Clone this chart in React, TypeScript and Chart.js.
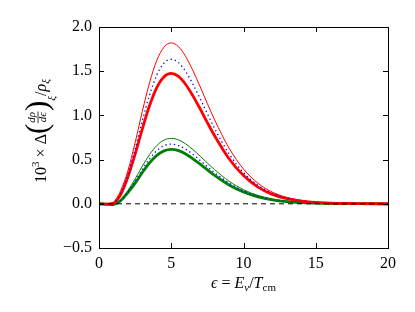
import React, { useEffect, useRef } from "react";
import { Chart, registerables } from "chart.js";

Chart.register(...registerables);

const xs = [0, 0.5, 1, 1.5, 2, 2.5, 3, 3.5, 4, 4.5, 5, 5.5, 6, 6.5, 7, 7.5, 8, 9, 10, 11, 12, 13, 14, 15, 16, 17, 18, 19, 20];
const redThin = [0, 0, 0.02, 0.15, 0.375, 0.693, 1.047, 1.37, 1.622, 1.773, 1.82, 1.778, 1.665, 1.507, 1.325, 1.134, 0.95, 0.63, 0.393, 0.233, 0.132, 0.072, 0.039, 0.02, 0.01, 0.005, 0.0025, 0.0013, 0.0005];
const blueUpper = [0, -0.002, 0.012, 0.125, 0.337, 0.623, 0.94, 1.231, 1.457, 1.592, 1.635, 1.597, 1.496, 1.354, 1.19, 1.019, 0.853, 0.566, 0.353, 0.209, 0.119, 0.065, 0.035, 0.018, 0.009, 0.0046, 0.0023, 0.0011, 0.0005];
const redThick = [0, -0.003, 0.005, 0.105, 0.304, 0.562, 0.848, 1.111, 1.314, 1.437, 1.475, 1.441, 1.35, 1.221, 1.074, 0.919, 0.77, 0.51, 0.319, 0.189, 0.107, 0.059, 0.031, 0.016, 0.008, 0.004, 0.002, 0.001, 0.0004];
const greenThin = [0, -0.003, -0.003, 0.05, 0.152, 0.282, 0.426, 0.557, 0.659, 0.721, 0.74, 0.723, 0.677, 0.613, 0.539, 0.461, 0.386, 0.256, 0.16, 0.095, 0.054, 0.029, 0.016, 0.008, 0.004, 0.002, 0.001, 0.0005, 0.0002];
const blueLower = [0, -0.004, -0.006, 0.042, 0.139, 0.257, 0.388, 0.508, 0.601, 0.657, 0.675, 0.659, 0.618, 0.559, 0.491, 0.421, 0.352, 0.234, 0.146, 0.086, 0.049, 0.027, 0.014, 0.007, 0.004, 0.002, 0.001, 0.0005, 0.0002];
const greenThick = [0, -0.005, -0.008, 0.035, 0.127, 0.234, 0.354, 0.463, 0.548, 0.599, 0.615, 0.601, 0.563, 0.509, 0.448, 0.383, 0.321, 0.213, 0.133, 0.079, 0.045, 0.024, 0.013, 0.007, 0.003, 0.002, 0.001, 0.0004, 0.0002];
const zeroLine = [0, 0];
const zeroX = [0, 20];
const xTicks = [0, 5, 10, 15, 20];
const yTicks = [-0.5, 0, 0.5, 1.0, 1.5, 2.0];

const FONT = "'Liberation Serif', 'DejaVu Serif', serif";

const pts = (x: number[], y: number[]) => x.map((v, i) => ({ x: v, y: y[i] }));

const framePlugin = {
  id: "frame",
  afterDraw(chart: any) {
    const { ctx, chartArea: a, scales } = chart;
    const xs_ = scales.x;
    const ys_ = scales.y;
    ctx.save();
    ctx.strokeStyle = "#000";
    ctx.lineWidth = 1;
    ctx.strokeRect(Math.round(a.left) + 0.5, Math.round(a.top) + 0.5, Math.round(a.right - a.left), Math.round(a.bottom - a.top));
    ctx.beginPath();
    const tl = 5;
    for (const t of xTicks) {
      const px = Math.round(xs_.getPixelForValue(t)) + 0.5;
      ctx.moveTo(px, a.bottom);
      ctx.lineTo(px, a.bottom - tl);
      ctx.moveTo(px, a.top);
      ctx.lineTo(px, a.top + tl);
    }
    for (const t of yTicks) {
      const py = Math.round(ys_.getPixelForValue(t)) + 0.5;
      ctx.moveTo(a.left, py);
      ctx.lineTo(a.left + tl, py);
      ctx.moveTo(a.right, py);
      ctx.lineTo(a.right - tl, py);
    }
    ctx.stroke();

    // x label
    ctx.fillStyle = "#000";
    ctx.textBaseline = "alphabetic";
    const big = 16;
    const small = 11;
    const xParts: [string, string, number][] = [
      ["ϵ", "italic", 0],
      [" = ", "normal", 0],
      ["E", "italic", 0],
      ["ν", "italic", 1],
      ["/", "normal", 0],
      ["T", "italic", 0],
      ["cm", "normal", 1],
    ];
    let w = 0;
    for (const [s, st, sub] of xParts) {
      ctx.font = `${st} ${sub ? small : big}px ${FONT}`;
      w += ctx.measureText(s).width;
    }
    let cx = (a.left + a.right) / 2 - w / 2;
    const by = 288;
    for (const [s, st, sub] of xParts) {
      ctx.font = `${st} ${sub ? small : big}px ${FONT}`;
      ctx.fillText(s, cx, by + (sub ? 3 : 0));
      cx += ctx.measureText(s).width;
    }

    // y label
    ctx.save();
    const lx = 41;
    const ly = 131;
    ctx.translate(lx, ly);
    ctx.rotate(-Math.PI / 2);
    const segs: any[] = [
      { t: "10", f: `normal ${big}px ${FONT}`, dy: 0 },
      { t: "3", f: `normal ${small}px ${FONT}`, dy: -7 },
      { t: " × Δ", f: `normal ${big}px ${FONT}`, dy: 0 },
      { t: "(", f: `normal 31px ${FONT}`, dy: 1 },
      { frac: ["dρ", "dϵ"], f: `italic ${small}px ${FONT}` },
      { t: ")", f: `normal 31px ${FONT}`, dy: 1 },
      { t: "ξ", f: `italic ${small}px ${FONT}`, dy: 9 },
      { t: "/", f: `normal ${big}px ${FONT}`, dy: 0 },
      { t: "ρ", f: `italic ${big}px ${FONT}`, dy: 0 },
      { t: "ξ", f: `italic ${small}px ${FONT}`, dy: 3 },
    ];
    let tw = 0;
    for (const s of segs) {
      ctx.font = s.f;
      if (s.frac) {
        s.w = Math.max(ctx.measureText(s.frac[0]).width, ctx.measureText(s.frac[1]).width) + 2;
      } else {
        s.w = ctx.measureText(s.t).width;
      }
      tw += s.w;
    }
    let px = -tw / 2;
    const base = 5;
    for (const s of segs) {
      ctx.font = s.f;
      if (s.frac) {
        ctx.textAlign = "center";
        ctx.fillText(s.frac[0], px + s.w / 2, base - 11);
        ctx.fillText(s.frac[1], px + s.w / 2, base - 0.5);
        ctx.beginPath();
        ctx.lineWidth = 0.8;
        ctx.moveTo(px + 0.5, base - 8);
        ctx.lineTo(px + s.w - 0.5, base - 8);
        ctx.stroke();
        ctx.textAlign = "left";
      } else {
        ctx.textAlign = "left";
        ctx.fillText(s.t, px, base + s.dy);
      }
      px += s.w;
    }
    ctx.restore();
    ctx.restore();
  },
};

export default function App() {
  const ref = useRef<HTMLCanvasElement | null>(null);
  useEffect(() => {
    document.body.style.margin = "0";
    const canvas = ref.current!;
    const mk = (label: string, data: number[], color: string, width: number, dash: number[] = []) => ({
      label,
      data: pts(xs, data),
      borderColor: color,
      backgroundColor: color,
      borderWidth: width,
      borderDash: dash,
      pointRadius: 0,
      cubicInterpolationMode: "monotone" as const,
      fill: false,
    });
    const chart = new Chart(canvas, {
      type: "line",
      data: {
        datasets: [
          { ...mk("zero", [], "#000", 1, [5, 4]), data: pts(zeroX, zeroLine) },
          mk("redThin", redThin, "#ff0000", 1),
          mk("blueUpper", blueUpper, "#0000ff", 1.3, [1.3, 3]),
          mk("redThick", redThick, "#ff0000", 2.8),
          mk("greenThin", greenThin, "#008000", 1),
          mk("blueLower", blueLower, "#0000ff", 1.3, [1.3, 3]),
          mk("greenThick", greenThick, "#008000", 2.8),
        ],
      },
      options: {
        animation: false,
        responsive: false,
        maintainAspectRatio: false,
        layout: { padding: { top: 27, right: 27, left: 0, bottom: 0 } },
        plugins: { legend: { display: false }, tooltip: { enabled: false } },
        scales: {
          x: {
            type: "linear",
            min: 0,
            max: 20,
            grid: { display: false, drawTicks: false },
            border: { display: false },
            afterBuildTicks: (s: any) => {
              s.ticks = xTicks.map((v) => ({ value: v }));
            },
            afterFit: (s: any) => {
              s.height = 64;
            },
            ticks: {
              padding: 6,
              color: "#000",
              font: { family: FONT, size: 16 },
              maxRotation: 0,
              callback: (v: any) => String(v),
            },
          },
          y: {
            type: "linear",
            min: -0.5,
            max: 2.0,
            grid: { display: false, drawTicks: false },
            border: { display: false },
            afterBuildTicks: (s: any) => {
              s.ticks = yTicks.map((v) => ({ value: v }));
            },
            afterFit: (s: any) => {
              s.width = 99;
            },
            ticks: {
              padding: 7,
              color: "#000",
              font: { family: FONT, size: 16 },
              callback: (v: any) => (Number(v) < 0 ? "−" + Math.abs(Number(v)).toFixed(1) : Number(v).toFixed(1)),
            },
          },
        },
      },
      plugins: [framePlugin],
    });
    return () => chart.destroy();
  }, []);
  return (
    <div style={{ width: 415, height: 312 }}>
      <canvas ref={ref} width={415} height={312} style={{ display: "block" }} />
    </div>
  );
}
